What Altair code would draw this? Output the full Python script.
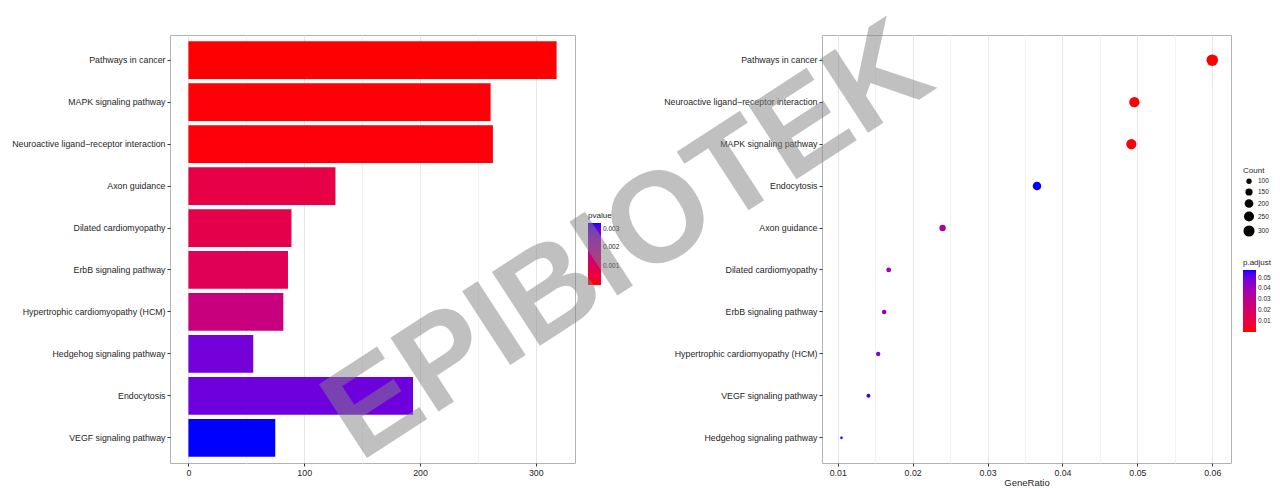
import altair as alt
import pandas as pd

# ---------------- data ----------------
bar_terms = [
    "Pathways in cancer",
    "MAPK signaling pathway",
    "Neuroactive ligand\u2212receptor interaction",
    "Axon guidance",
    "Dilated cardiomyopathy",
    "ErbB signaling pathway",
    "Hypertrophic cardiomyopathy (HCM)",
    "Hedgehog signaling pathway",
    "Endocytosis",
    "VEGF signaling pathway",
]
bar_counts = [318, 261, 263, 127, 89, 86, 82, 56, 194, 75]
bar_pvalues = [0.00001, 0.00004, 0.00005, 0.0007, 0.00078, 0.0009, 0.0015, 0.0028, 0.00285, 0.0033]

dot_terms = [
    "Pathways in cancer",
    "Neuroactive ligand\u2212receptor interaction",
    "MAPK signaling pathway",
    "Endocytosis",
    "Axon guidance",
    "Dilated cardiomyopathy",
    "ErbB signaling pathway",
    "Hypertrophic cardiomyopathy (HCM)",
    "VEGF signaling pathway",
    "Hedgehog signaling pathway",
]
dot_ratio = [0.0600, 0.0496, 0.0492, 0.0366, 0.0240, 0.0168, 0.0162, 0.0154, 0.0141, 0.0105]
dot_counts = [318, 263, 261, 194, 127, 89, 86, 82, 75, 56]
dot_padj = [0.0002, 0.0008, 0.0008, 0.057, 0.035, 0.040, 0.042, 0.046, 0.055, 0.056]

pvalue_ticks = [0.001, 0.002, 0.003]
padj_ticks = [0.01, 0.02, 0.03, 0.04, 0.05]
count_ticks = [100, 150, 200, 250, 300]
bar_x_ticks = [0, 50, 100, 150, 200, 250, 300]
dot_x_ticks = [0.01, 0.015, 0.02, 0.025, 0.03, 0.035, 0.04, 0.045, 0.05, 0.055, 0.06]
watermark = ["EPIBIOTEK"]

bar_df = pd.DataFrame({"term": bar_terms, "count": bar_counts, "pvalue": bar_pvalues})
dot_df = pd.DataFrame({"term": dot_terms, "GeneRatio": dot_ratio, "Count": dot_counts, "padj": dot_padj})
wm_df = pd.DataFrame({"label": watermark})

FONT = "Liberation Sans"
MAJOR = "#e6e6e6"
MINOR = "#f3f3f3"

band = alt.Scale(type="band", paddingInner=0.1, paddingOuter=0.15)
y_axis = alt.Axis(title=None, bandPosition=0.5, gridColor="#ebebeb", labelPadding=2)

left = alt.Chart(bar_df).mark_bar().encode(
    x=alt.X(
        "count:Q",
        scale=alt.Scale(domain=[-15.9, 333.9], nice=False, zero=False),
        axis=alt.Axis(
            title=None,
            values=bar_x_ticks,
            labelExpr="datum.value % 100 === 0 ? datum.label : ''",
            gridColor={"condition": {"test": "datum.value % 100 === 0", "value": MAJOR}, "value": MINOR},
            tickOpacity={"condition": {"test": "datum.value % 100 === 0", "value": 1}, "value": 0},
        ),
    ),
    x2=alt.datum(0),
    y=alt.Y("term:N", sort=bar_terms, scale=band, axis=y_axis),
    color=alt.Color(
        "pvalue:Q",
        scale=alt.Scale(domain=[0, 0.0033], range=["#ff0000", "#0000ff"], interpolate="lab"),
        legend=alt.Legend(
            title="pvalue", orient="none", legendX=418, legendY=177,
            values=pvalue_ticks, format=".3f", direction="vertical",
        ),
    ),
).properties(width=405, height=428)

major_test = "abs(datum.value*100 - round(datum.value*100)) < 0.001"
dots = alt.Chart(dot_df).mark_circle(opacity=1).encode(
    x=alt.X(
        "GeneRatio:Q",
        scale=alt.Scale(domain=[0.0079, 0.0625], nice=False, zero=False),
        axis=alt.Axis(
            title="GeneRatio",
            values=dot_x_ticks,
            labelExpr=major_test + " ? format(datum.value, '.2f') : ''",
            gridColor={"condition": {"test": major_test, "value": MAJOR}, "value": MINOR},
            tickOpacity={"condition": {"test": major_test, "value": 1}, "value": 0},
            titlePadding=1,
        ),
    ),
    y=alt.Y("term:N", sort=dot_terms, scale=band, axis=y_axis),
    size=alt.Size(
        "Count:Q",
        scale=alt.Scale(domain=[56, 318], range=[7, 133]),
        legend=alt.Legend(
            title="Count", orient="none", legendX=421, legendY=132,
            values=count_ticks, symbolFillColor="black", symbolStrokeColor="black",
            symbolStrokeWidth=0, symbolOpacity=1, rowPadding=3,
        ),
    ),
    color=alt.Color(
        "padj:Q",
        scale=alt.Scale(domain=[0, 0.057], range=["#ff0000", "#0000ff"], interpolate="lab"),
        legend=alt.Legend(
            title="p.adjust", orient="none", legendX=421, legendY=224,
            values=padj_ticks, format=".2f", direction="vertical",
        ),
    ),
)

wm = alt.Chart(wm_df).mark_text(
    font=FONT, fontWeight="bold", fontSize=128, angle=327,
    color="#838383", opacity=0.5, align="center", baseline="alphabetic",
).encode(text="label:N", x=alt.value(-173), y=alt.value(240))

right = alt.layer(dots, wm).properties(width=409, height=428)

chart = (
    alt.hconcat(left, right, spacing=247, bounds="flush")
    .resolve_scale(color="independent", size="independent", x="independent", y="independent")
    .properties(
        autosize=alt.AutoSizeParams(type="none"),
        padding={"left": 162, "top": 27, "right": 1264 - 162, "bottom": 473 - 27},
        background="white",
    )
    .configure_view(stroke="#b3b3b3", strokeWidth=1)
    .configure_axis(
        labelFont=FONT, labelFontSize=8.8, labelColor="#262626",
        titleFont=FONT, titleFontSize=9.5, titleFontWeight="normal", titleColor="#262626",
        tickColor="#333333", tickSize=3, domain=False,
    )
    .configure_legend(
        titleFont=FONT, titleFontSize=8, titleFontWeight="normal", titleColor="#262626",
        labelFont=FONT, labelFontSize=6.5, labelColor="#262626",
        gradientLength=62, gradientThickness=13, gradientStrokeWidth=0,
        titlePadding=3, padding=0, labelOffset=3,
    )
)

chart.save("out.html", embed_options={"renderer": "svg", "actions": False})
